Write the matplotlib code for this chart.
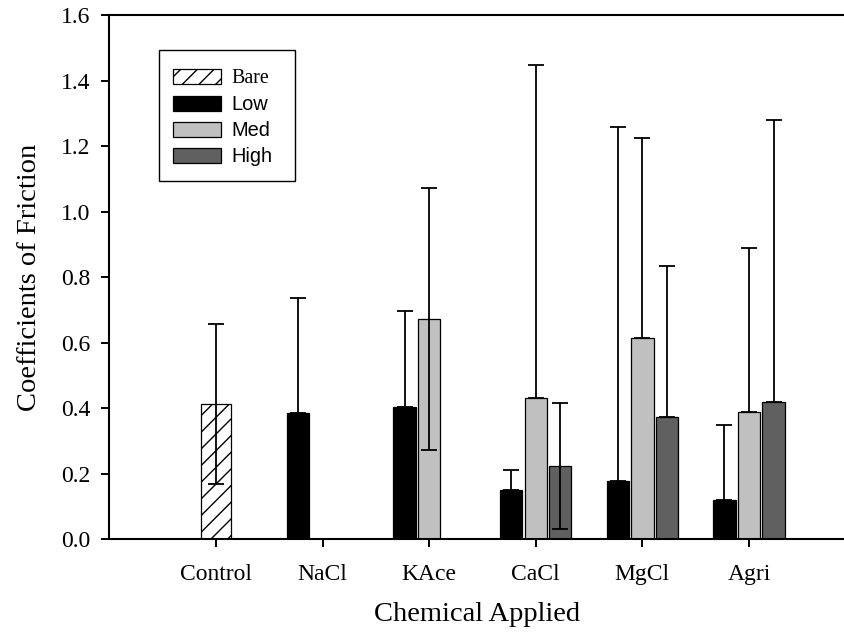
import numpy as np
import matplotlib
matplotlib.use("Agg")
import matplotlib.pyplot as plt
from matplotlib.patches import Patch, Rectangle

# ---- data ----
categories = ["Control", "NaCl", "KAce", "CaCl", "MgCl", "Agri"]
series = ["Bare", "Low", "Med", "High"]
nan = np.nan
bare_vals = [0.413, nan, nan, nan, nan, nan]
low_vals = [nan, 0.385, 0.404, 0.150, 0.179, 0.119]
med_vals = [nan, nan, 0.673, 0.430, 0.613, 0.388]
high_vals = [nan, nan, nan, 0.224, 0.374, 0.418]

bare_up = [0.243, nan, nan, nan, nan, nan]
low_up = [nan, 0.350, 0.293, 0.063, 1.078, 0.231]
med_up = [nan, nan, 0.399, 1.016, 0.611, 0.502]
high_up = [nan, nan, nan, 0.192, 0.461, 0.862]

bare_dn = [0.244, nan, nan, nan, nan, nan]
low_dn = [nan, 0.0, 0.0, 0.0, 0.0, 0.0]
med_dn = [nan, nan, 0.402, 0.0, 0.0, 0.0]
high_dn = [nan, nan, nan, 0.193, 0.0, 0.0]

yticks = [0.0, 0.2, 0.4, 0.6, 0.8, 1.0, 1.2, 1.4, 1.6]

colors = {"Bare": "white", "Low": "#000000", "Med": "#c0c0c0", "High": "#606060"}

serif = ["Liberation Serif", "DejaVu Serif"]
sans = ["Liberation Sans", "DejaVu Sans"]

plt.rcParams['hatch.linewidth'] = 1.0

W, H = 845, 639
fig = plt.figure(figsize=(W / 100, H / 100), dpi=100)
ax = fig.add_axes([109.3 / W, (H - 539.3) / H, 1 - 109.3 / W, (539.3 - 15) / H])

x = np.arange(len(categories))
off = 0.23
w = 0.21
bw = 0.28


def draw(vals, up, dn, offset, width, color, hatch=None):
    v = np.array(vals, dtype=float)
    m = ~np.isnan(v)
    xs = x[m] + offset
    ax.bar(xs, v[m], width=width, color=color, edgecolor="black", linewidth=0.9,
           hatch=hatch, zorder=2)
    ax.errorbar(xs, v[m], yerr=[np.array(dn, float)[m], np.array(up, float)[m]],
                fmt="none", ecolor="black", elinewidth=1.3, capsize=5.8,
                capthick=1.3, zorder=3)


draw(bare_vals, bare_up, bare_dn, 0.0, bw, colors["Bare"], hatch="//")
draw(low_vals, low_up, low_dn, -off, w, colors["Low"])
draw(med_vals, med_up, med_dn, 0.0, w, colors["Med"])
draw(high_vals, high_up, high_dn, off, w, colors["High"])

ax.set_xlim(-1.0, (W - 216) / 106.6)
ax.set_ylim(0, 1.6)
ax.set_xticks(x)
ax.set_xticklabels(categories, fontfamily=serif, fontsize=17)
ax.set_yticks(yticks)
ax.set_yticklabels([f"{t:.1f}" for t in yticks], fontfamily=serif, fontsize=17)
ax.tick_params(axis="both", direction="out", length=5.5, width=1.4)
ax.tick_params(axis="x", pad=12)
ax.tick_params(axis="y", pad=8)
for s in ["left", "top", "bottom"]:
    ax.spines[s].set_linewidth(1.5)
ax.spines["right"].set_visible(False)

ax.set_xlabel("Chemical Applied", fontfamily=serif, fontsize=20.5, labelpad=12.6)
ax.set_ylabel("Coefficients of Friction", fontfamily=serif, fontsize=20.5, labelpad=14)

# legend frame (drawn separately for exact placement)
axw = W - 109.3
axh = 539.3 - 15
ax.add_patch(Rectangle(((159 - 109.3) / axw, (539.3 - 181) / axh),
                       (295 - 159) / axw, (181 - 50) / axh,
                       transform=ax.transAxes, facecolor="white",
                       edgecolor="black", linewidth=1.0, zorder=4))

handles = [
    Patch(facecolor="white", edgecolor="black", hatch="//", linewidth=0.9),
    Patch(facecolor=colors["Low"], edgecolor="black", linewidth=0.9),
    Patch(facecolor=colors["Med"], edgecolor="black", linewidth=0.9),
    Patch(facecolor=colors["High"], edgecolor="black", linewidth=0.9),
]
leg = ax.legend(handles, series, loc="upper left",
                bbox_to_anchor=((158 - 109.3) / axw, (539.3 - 54) / axh),
                borderaxespad=0, frameon=False,
                prop={"family": sans, "size": 14.4}, handlelength=2.4, handleheight=0.75,
                handletextpad=0.5, labelspacing=0.35, borderpad=0.75)
leg.set_zorder(5)
leg.get_texts()[0].set_fontfamily(serif)

fig.savefig("out.png", dpi=100)
